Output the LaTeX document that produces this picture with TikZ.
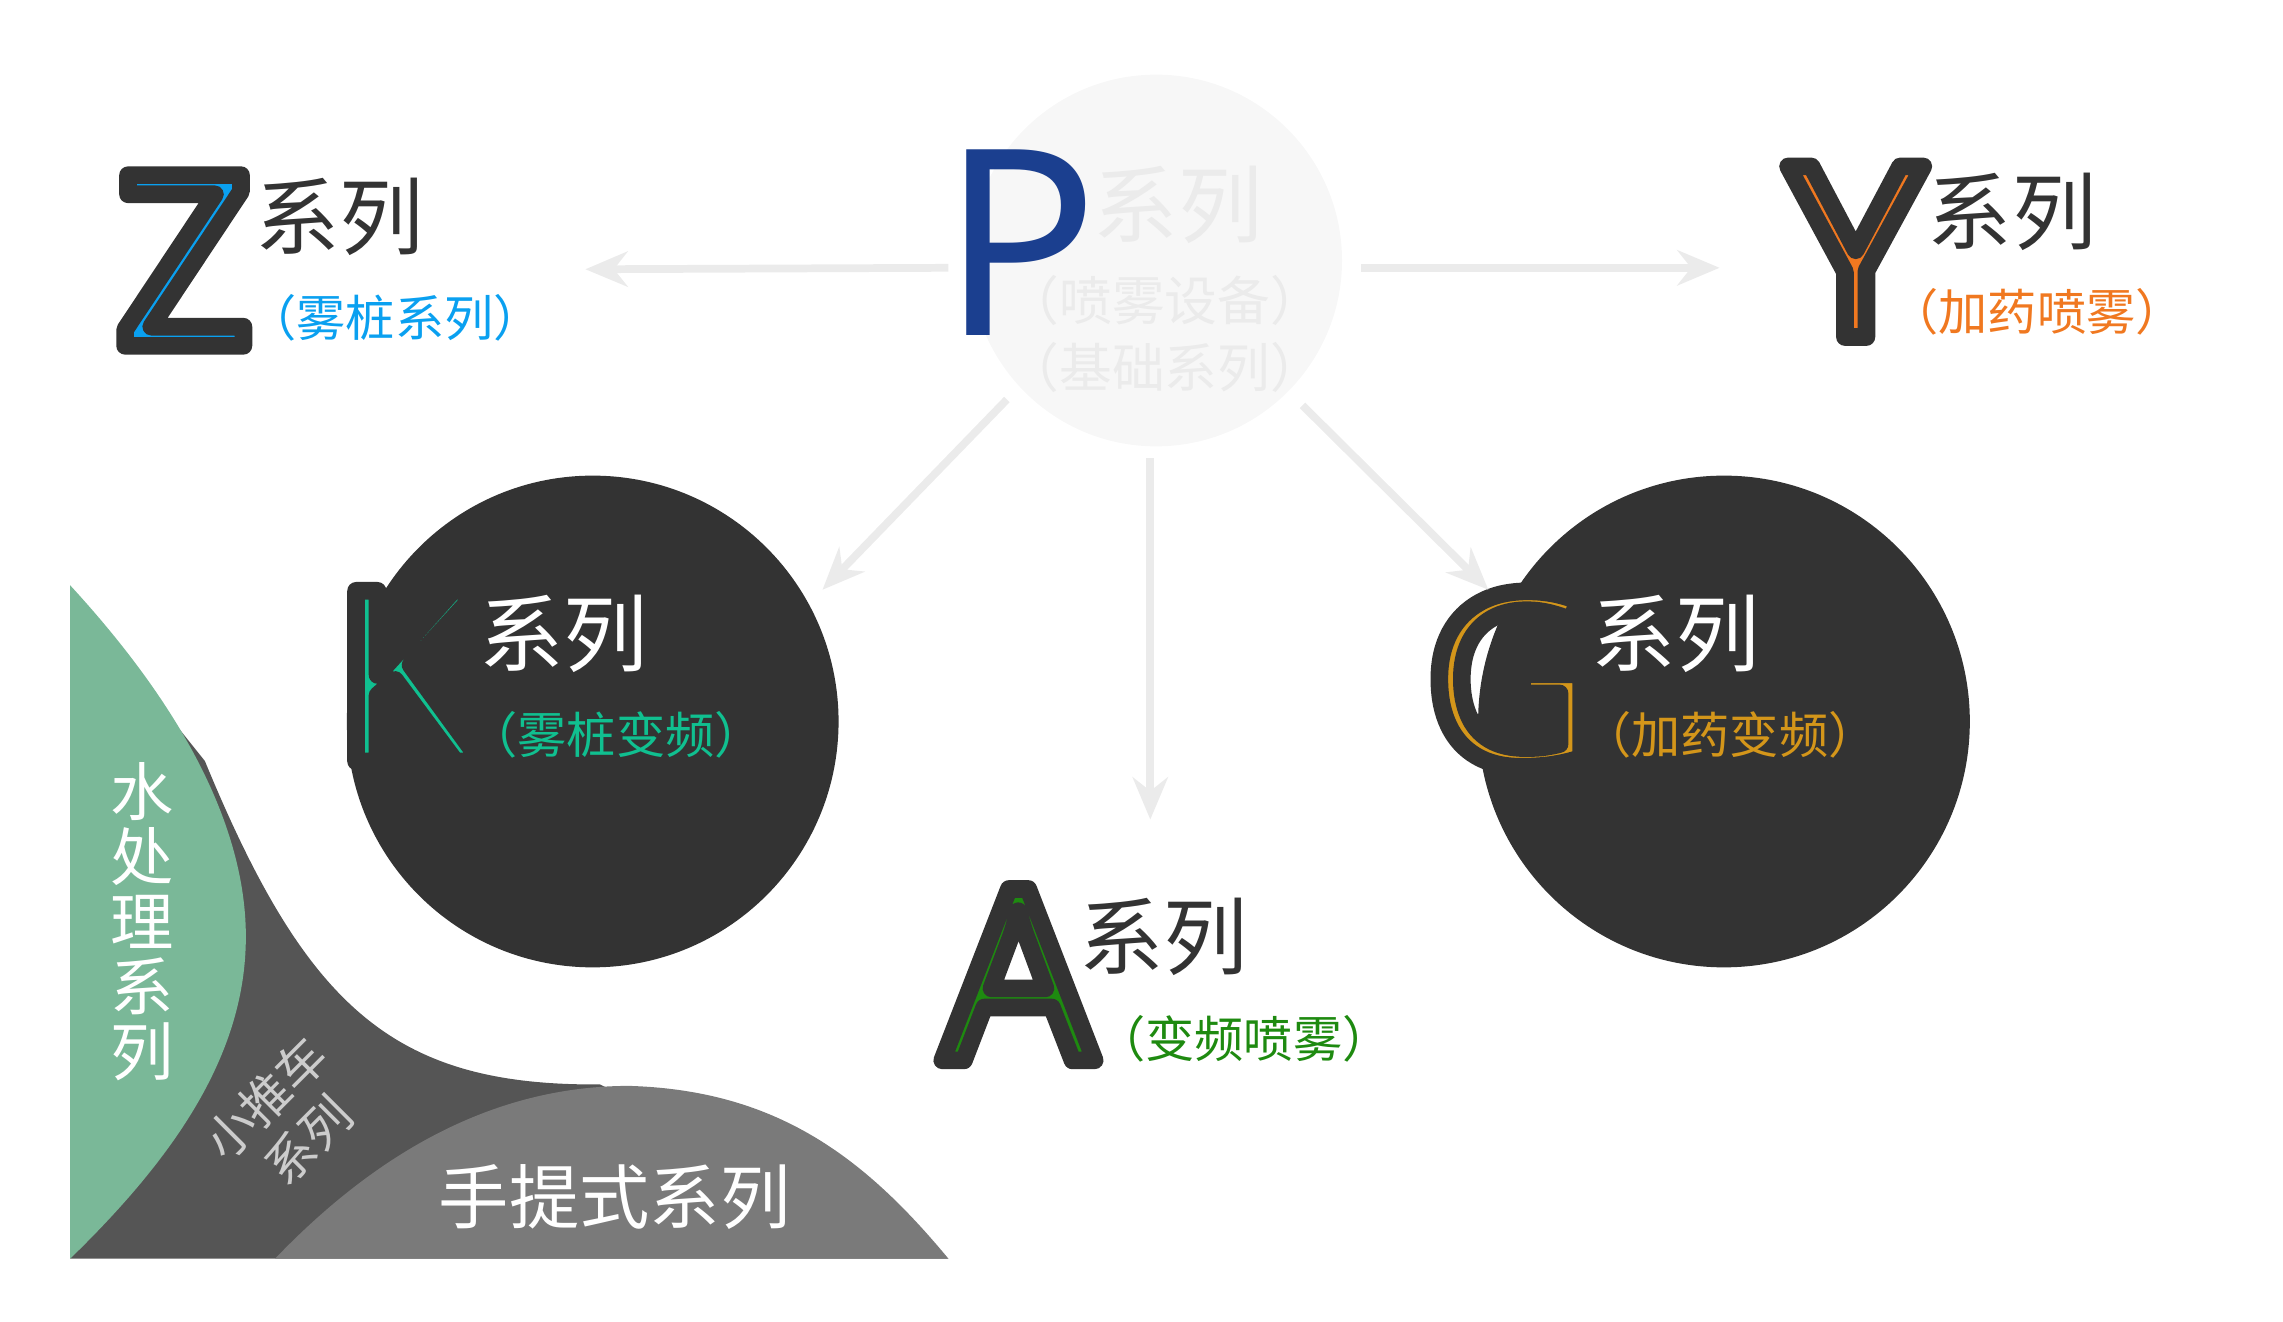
\documentclass[tikz,border=0pt]{standalone}
\usepackage{fontspec}
\setmainfont{Noto Sans}
\newfontfamily\cjk{Noto Sans CJK SC}
\usetikzlibrary{arrows.meta}
\definecolor{darkfill}{HTML}{333333}
\definecolor{pblue}{HTML}{1B3F8F}
\definecolor{zblue}{HTML}{0AA0F0}
\definecolor{yorange}{HTML}{F07820}
\definecolor{kgreen}{HTML}{10C090}
\definecolor{ggold}{HTML}{D4961A}
\definecolor{agreen}{HTML}{1E8A10}
\definecolor{watergreen}{HTML}{7AB898}
\definecolor{cartgray}{HTML}{555555}
\definecolor{handgray}{HTML}{7A7A7A}
\definecolor{arrowgray}{HTML}{EBEBEB}
\tikzset{
  bigletter/.style={inner sep=0pt, font=\fontsize{68}{68}\selectfont},
  series/.style={inner sep=0pt, font=\cjk\fontsize{24}{24}\selectfont},
  subtitle/.style={inner sep=0pt, font=\cjk\fontsize{14}{14}\selectfont},
  linkarrow/.style={draw=arrowgray, line width=2.2pt, -{Stealth[length=12pt,width=10pt]}},
}
% letter filled with #1 and stroked in dark gray
\newcommand{\outlined}[2]{\textcolor{#1}{\special{pdf:literal direct 2 Tr 5 w 1 j 0.2 0.2 0.2 RG}#2\special{pdf:literal direct 0 Tr}}}
\begin{document}
\begin{tikzpicture}[x=0.014635cm, y=-0.014635cm]
  \useasboundingbox (0,0) rectangle (1560,903);
  %%%%% bottom left
  \fill[cartgray] (60,420) -- (140,520) .. controls (210,690) and (270,742) .. (410,741) -- (648,860) -- (48,860) -- cycle;
  \fill[handgray] (188,860) .. controls (260,785) and (340,742) .. (430,742) .. controls (530,745) and (590,790) .. (648,860) -- cycle;
  \fill[watergreen] (48,400) .. controls (140,500) and (168,580) .. (168,640) .. controls (168,720) and (120,790) .. (48,860) -- cycle;
  \node[white, font=\cjk\fontsize{18}{18.5}\selectfont, align=center] (water) at (97,630) {水\\处\\理\\系\\列};
  \node[black!20, font=\cjk\fontsize{14}{17}\selectfont, align=center, rotate=45] (cart) at (196,765) {小推车\\系列};
  \node[white, font=\cjk\fontsize{20}{20}\selectfont] (hand) at (420,818) {手提式系列};
  %%%%% circles
  \fill[black!3] (790,178) circle (127);
  \fill[darkfill] (405,493) circle (168);
  \fill[darkfill] (1178,493) circle (168);
  %%%%% P
  \node[bigletter, pblue, font=\fontsize{74}{74}\selectfont] (pletter) at (697,166) {P};
  \node[series, black!8] (pseries) at (805,140) {系列};
  \node[subtitle, black!8, align=center, font=\cjk\fontsize{15}{19}\selectfont] (psub) at (796,228) {（喷雾设备）\\（基础系列）};
  %%%%% Z
  \node[bigletter] (zletter) at (126,178) {\outlined{zblue}{Z}};
  \node[series, darkfill] (zseries) at (232,148) {系列};
  \node[subtitle, zblue] (zsub) at (270,217) {（雾桩系列）};
  %%%%% Y
  \node[bigletter] (yletter) at (1268,172) {\outlined{yorange}{Y}};
  \node[series, darkfill] (yseries) at (1375,145) {系列};
  \node[subtitle, yorange] (ysub) at (1392,213) {（加药喷雾）};
  %%%%% K
  \node[bigletter] (kletter) at (278,462) {\outlined{kgreen}{K}};
  \node[series, white] (kseries) at (385,433) {系列};
  \node[subtitle, kgreen] (ksub) at (421,502) {（雾桩变频）};
  %%%%% G
  \node[bigletter] (gletter) at (1033,464) {\outlined{ggold}{G}};
  \node[series, white] (gseries) at (1145,433) {系列};
  \node[subtitle, ggold] (gsub) at (1182,502) {（加药变频）};
  %%%%% A
  \node[bigletter] (aletter) at (696,666) {\outlined{agreen}{A}};
  \node[series, darkfill] (aseries) at (795,640) {系列};
  \node[subtitle, agreen] (asub) at (850,710) {（变频喷雾）};
  %%%%% arrows
  \coordinate (pleft) at (648,183);
  \coordinate (pright) at (930,183);
  \coordinate (pdl) at (688,273);
  \coordinate (pdown) at (786,313);
  \coordinate (pdr) at (890,277);
  \coordinate (zend) at (400,184);
  \coordinate (yend) at (1175,183);
  \coordinate (kend) at (562,403);
  \coordinate (aend) at (786,560);
  \coordinate (gend) at (1017,403);
  \draw[linkarrow] (pleft) -- (zend);
  \draw[linkarrow] (pright) -- (yend);
  \draw[linkarrow] (pdl) -- (kend);
  \draw[linkarrow] (pdown) -- (aend);
  \draw[linkarrow] (pdr) -- (gend);
\end{tikzpicture}
\end{document}
